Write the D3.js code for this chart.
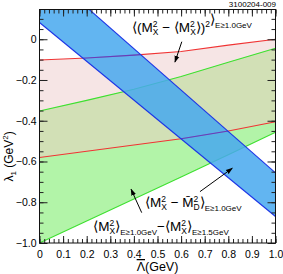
<!DOCTYPE html>
<html>
<head>
<meta charset="utf-8">
<script src="https://cdn.jsdelivr.net/npm/d3@7"></script>
<style>
  body { margin: 0; background: #fff; }
  svg { display: block; font-family: "Liberation Sans", Arial, sans-serif; }
</style>
</head>
<body>
<div id="chart"></div>
<script>
// values
const xs = [0, 0.2, 0.4, 0.6, 0.8, 1.0];
const redUpper = [-0.102, -0.092, -0.078, -0.060, -0.029, 0.0];
const redLower = [-0.580, -0.550, -0.519, -0.488, -0.450, -0.405];
const greenUpper = [-0.352, -0.300, -0.245, -0.183, -0.113, -0.044];
const greenLower = [-1.0, -0.892, -0.784, -0.676, -0.567, -0.457];
const blueX = [0, 1];
const blueUpper = [0.36, -0.656];
const blueLower = [0.082, -0.87];

const xMajor = [0, 0.1, 0.2, 0.3, 0.4, 0.5, 0.6, 0.7, 0.8, 0.9, 1.0];
const yMajor = [-1.0, -0.8, -0.6, -0.4, -0.2, 0];

const width = 283, height = 274;
const pLeft = 39.5, pRight = 275.5, pTop = 9.5, pBottom = 243;

const svg = d3.select("#chart").append("svg")
  .attr("width", width)
  .attr("height", height);

const x = d3.scaleLinear().domain([0, 1]).range([pLeft, pRight]);
const y = d3.scaleLinear().domain([-1, 0.146]).range([pBottom, pTop]);

const defs = svg.append("defs");
defs.append("clipPath").attr("id", "plotclip")
  .append("rect").attr("x", pLeft).attr("y", pTop)
  .attr("width", pRight - pLeft).attr("height", pBottom - pTop);

const band = (lo, hi, xv) => d3.area()
  .x((d, i) => x(xv[i]))
  .y0((d, i) => y(lo[i]))
  .y1((d, i) => y(hi[i]))(xv);
const line = (vals, xv) => d3.line()
  .x((d, i) => x(xv[i]))
  .y((d, i) => y(vals[i]))(xv);

defs.append("clipPath").attr("id", "greenclip")
  .append("path").attr("d", band(greenLower, greenUpper, xs));
defs.append("clipPath").attr("id", "blueclip")
  .append("path").attr("d", band(blueLower, blueUpper, blueX));

const plot = svg.append("g").attr("clip-path", "url(#plotclip)");

// bands
plot.append("path").attr("d", band(redLower, redUpper, xs)).attr("fill", "#f6e5e5");
plot.append("path").attr("d", band(greenLower, greenUpper, xs)).attr("fill", "#b2f4a8");
plot.append("g").attr("clip-path", "url(#greenclip)")
  .append("path").attr("d", band(redLower, redUpper, xs)).attr("fill", "#d2e0b6");

[redUpper, redLower].forEach(v => {
  plot.append("path").attr("d", line(v, xs))
    .attr("fill", "none").attr("stroke", "#f03434").attr("stroke-width", 1.1);
});
[greenUpper, greenLower].forEach(v => {
  plot.append("path").attr("d", line(v, xs))
    .attr("fill", "none").attr("stroke", "#3ee030").attr("stroke-width", 1.1);
});

// blue band on top
plot.append("path").attr("d", band(blueLower, blueUpper, blueX))
  .attr("fill", "rgb(70,168,238)").attr("fill-opacity", 0.85);
// red lines look purple through the blue band
const purple = plot.append("g").attr("clip-path", "url(#blueclip)");
[redUpper, redLower].forEach(v => {
  purple.append("path").attr("d", line(v, xs))
    .attr("fill", "none").attr("stroke", "#6a3cb8").attr("stroke-width", 1.1);
});
[blueUpper, blueLower].forEach(v => {
  plot.append("path").attr("d", line(v, blueX))
    .attr("fill", "none").attr("stroke", "#1c34e6").attr("stroke-width", 1.1);
});

// axes
const fmt = d => d === 0 ? "0" : d3.format(".1f")(d);
const xMinor = d3.range(0, 1.001, 0.02);
const yMinor = d3.range(-1, 0.15, 0.05);

function addAxis(axis, tx, ty) {
  const g = svg.append("g").attr("transform", `translate(${tx},${ty})`).call(axis);
  g.select(".domain").remove();
  g.selectAll("line").attr("stroke", "#222");
  return g;
}
addAxis(d3.axisBottom(x).tickValues(xMinor).tickSize(-4).tickFormat(""), 0, pBottom);
addAxis(d3.axisTop(x).tickValues(xMinor).tickSize(-4).tickFormat(""), 0, pTop);
addAxis(d3.axisTop(x).tickValues(xMajor).tickSize(-7).tickFormat(""), 0, pTop);
const xa = addAxis(d3.axisBottom(x).tickValues(xMajor).tickSize(-7).tickPadding(8).tickFormat(fmt), 0, pBottom);
xa.selectAll("text").attr("font-size", 10.5).attr("font-family", "Liberation Sans, Arial, sans-serif").attr("fill", "#000");

addAxis(d3.axisLeft(y).tickValues(yMinor).tickSize(-4).tickFormat(""), pLeft, 0);
addAxis(d3.axisRight(y).tickValues(yMinor).tickSize(-4).tickFormat(""), pRight, 0);
addAxis(d3.axisRight(y).tickValues(yMajor).tickSize(-8).tickFormat(""), pRight, 0);
const ya = addAxis(d3.axisLeft(y).tickValues(yMajor).tickSize(-8).tickPadding(3).tickFormat(fmt), pLeft, 0);
ya.selectAll("text").attr("font-size", 10.5).attr("font-family", "Liberation Sans, Arial, sans-serif").attr("fill", "#000");

svg.append("rect").attr("x", pLeft).attr("y", pTop)
  .attr("width", pRight - pLeft).attr("height", pBottom - pTop)
  .attr("fill", "none").attr("stroke", "#111").attr("stroke-width", 1);

// axis titles
const xt = svg.append("text").attr("x", (pLeft + pRight) / 2).attr("y", 271)
  .attr("text-anchor", "middle").attr("font-size", 12.5);
xt.append("tspan").style("text-decoration", "overline").text("\u039B");
xt.append("tspan").text("(GeV)");

const yt = svg.append("text")
  .attr("transform", `translate(13,${(y(-0.4) + y(-0.75)) / 2}) rotate(-90)`)
  .attr("text-anchor", "middle").attr("font-size", 12);
yt.append("tspan").text("\u03BB");
yt.append("tspan").attr("font-size", 8).attr("dy", 3).text("1");
yt.append("tspan").attr("dy", -3).text(" (GeV");
yt.append("tspan").attr("font-size", 8).attr("dy", -5).text("2");
yt.append("tspan").attr("dy", 5).text(")");

svg.append("text").attr("x", 276).attr("y", 7)
  .attr("text-anchor", "end").attr("font-size", 8).text("3100204-009");

// annotations
// parts: [text, kind]  kind: n (normal), ss (sup/sub stack), sub
function mathLabel(px, py, parts) {
  const t = svg.append("text").attr("x", px).attr("y", py).attr("font-size", 13.5);
  let off = 0;
  parts.forEach(([s, kind, s2]) => {
    if (kind === "n") {
      t.append("tspan").attr("dy", -off).text(s);
      off = 0;
    } else if (kind === "ss") {
      t.append("tspan").attr("font-size", 8.5).attr("dy", -5 - off).text(s);
      const w = s.length * 4.7;
      t.append("tspan").attr("font-size", 8.5).attr("dx", -w).attr("dy", 8).text(s2);
      off = 3;
    } else if (kind === "sub") {
      t.append("tspan").attr("font-size", 8).attr("dy", 4 - off).text(s);
      off = 4;
    }
  });
  return t;
}

mathLabel(x(0.392), y(0.036), [
  ["\u27E8(M", "n"], ["2", "ss", "X"], [" \u2212 \u27E8M", "n"], ["2", "ss", "X"],
  ["\u27E9)", "n"], ["2", "ss", ""], ["\u27E9", "n"], ["E\u22651.0GeV", "sub"]
]);
mathLabel(x(0.447), y(-0.823), [
  ["\u27E8M", "n"], ["2", "ss", "X"], [" \u2212 M\u0304", "n"], ["2", "ss", "D"],
  ["\u27E9", "n"], ["E\u22651.0GeV", "sub"]
]);
mathLabel(x(0.228), y(-0.941), [
  ["\u27E8M", "n"], ["2", "ss", "X"], ["\u27E9", "n"], ["E\u22651.0GeV", "sub"],
  ["\u2212\u27E8M", "n"], ["2", "ss", "X"], ["\u27E9", "n"], ["E\u22651.5GeV", "sub"]
]);

// arrows
defs.append("marker").attr("id", "head")
  .attr("viewBox", "0 0 10 10").attr("refX", 9).attr("refY", 5)
  .attr("markerWidth", 7).attr("markerHeight", 7).attr("orient", "auto")
  .append("path").attr("d", "M0,1.5 L10,5 L0,8.5 Z").attr("fill", "#000");

const arrows = [
  [[0.603, -0.012], [0.574, -0.112]],
  [[0.680, -0.748], [0.817, -0.633]],
  [[0.433, -0.851], [0.388, -0.736]]
];
arrows.forEach(([a, b]) => {
  svg.append("line")
    .attr("x1", x(a[0])).attr("y1", y(a[1]))
    .attr("x2", x(b[0])).attr("y2", y(b[1]))
    .attr("stroke", "#000").attr("stroke-width", 1)
    .attr("marker-end", "url(#head)");
});
</script>
</body>
</html>
